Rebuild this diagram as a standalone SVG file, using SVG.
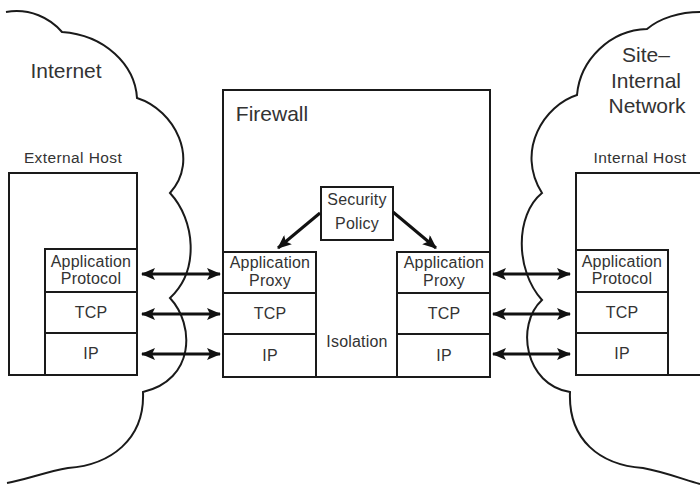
<svg xmlns="http://www.w3.org/2000/svg" width="700" height="485" viewBox="0 0 700 485">
<defs>
<style>
.box{fill:#fff;stroke:#1a1a1a;stroke-width:2}
.cloud{fill:none;stroke:#1a1a1a;stroke-width:2}
.t{font-family:"Liberation Sans",Arial,sans-serif;fill:#333;text-anchor:middle}
.big{font-size:21px}
.mid{font-size:15.5px;letter-spacing:0.4px}
.sm{font-size:16px;letter-spacing:0.2px}
.conn{stroke:#111;stroke-width:3;fill:none}
</style>
<marker id="ah" viewBox="0 0 14 12" refX="13" refY="6" markerWidth="14" markerHeight="12" markerUnits="userSpaceOnUse" orient="auto-start-reverse">
<path d="M0,0 L14,6 L0,12 L3,6 Z" fill="#111"/>
</marker>
</defs>
<rect width="700" height="485" fill="#fff"/>

<g id="internet-cloud">
<path class="cloud" d="M6,12 C30,8 50,18 62,32 C105,35 135,65 137,98 C175,110 200,160 170,193 C195,220 200,270 170,298 C195,325 195,380 143,392 C145,440 110,465 68,468 C45,472 25,480 7,483"/>
<text class="t big" x="66" y="78">Internet</text>
</g>

<g id="internal-cloud">
<path class="cloud" d="M700,12 C680,12 660,18 647,29 C610,30 580,60 577,95 C545,105 515,150 542,193 C515,215 515,270 542,300 C515,325 525,385 570,392 C568,440 600,465 643,468 C665,472 685,480 700,484"/>
<text class="t big" x="646" y="62">Site–</text>
<text class="t big" x="646" y="88">Internal</text>
<text class="t big" x="647" y="113">Network</text>
</g>

<g id="external-host">
<text class="t mid" x="73" y="163">External Host</text>
<rect class="box" x="9" y="173" width="128" height="202"/>
<rect class="box" x="45" y="249" width="92" height="43"/>
<rect class="box" x="45" y="292" width="92" height="41"/>
<rect class="box" x="45" y="333" width="92" height="42"/>
<text class="t sm" x="91" y="267">Application</text>
<text class="t sm" x="91" y="284">Protocol</text>
<text class="t sm" x="91" y="318">TCP</text>
<text class="t sm" x="91" y="359">IP</text>
</g>

<g id="firewall">
<rect class="box" x="223" y="90" width="267" height="287"/>
<text class="t big" x="272" y="121">Firewall</text>
<text class="t sm" x="357" y="347">Isolation</text>
</g>

<g id="security-policy">
<rect class="box" x="321" y="187" width="72" height="53"/>
<text class="t sm" x="357" y="205">Security</text>
<text class="t sm" x="357" y="229">Policy</text>
</g>

<g id="left-proxy">
<rect class="box" x="223" y="252" width="93" height="41"/>
<rect class="box" x="223" y="293" width="93" height="41"/>
<rect class="box" x="223" y="334" width="93" height="43"/>
<text class="t sm" x="270" y="268">Application</text>
<text class="t sm" x="270" y="286">Proxy</text>
<text class="t sm" x="270" y="319">TCP</text>
<text class="t sm" x="270" y="361">IP</text>
</g>

<g id="right-proxy">
<rect class="box" x="397" y="252" width="93" height="41"/>
<rect class="box" x="397" y="293" width="93" height="41"/>
<rect class="box" x="397" y="334" width="93" height="43"/>
<text class="t sm" x="444" y="268">Application</text>
<text class="t sm" x="444" y="286">Proxy</text>
<text class="t sm" x="444" y="319">TCP</text>
<text class="t sm" x="444" y="361">IP</text>
</g>

<g id="internal-host">
<text class="t mid" x="640" y="163">Internal Host</text>
<rect class="box" x="576" y="173" width="130" height="202"/>
<rect class="box" x="576" y="250" width="92" height="42"/>
<rect class="box" x="576" y="292" width="92" height="41"/>
<rect class="box" x="576" y="333" width="92" height="42"/>
<text class="t sm" x="622" y="267">Application</text>
<text class="t sm" x="622" y="284">Protocol</text>
<text class="t sm" x="622" y="318">TCP</text>
<text class="t sm" x="622" y="359">IP</text>
</g>

<g id="connectors">
<line class="conn" x1="142" y1="274" x2="220" y2="274" marker-start="url(#ah)" marker-end="url(#ah)"/>
<line class="conn" x1="142" y1="314" x2="220" y2="314" marker-start="url(#ah)" marker-end="url(#ah)"/>
<line class="conn" x1="142" y1="354" x2="220" y2="354" marker-start="url(#ah)" marker-end="url(#ah)"/>
<line class="conn" x1="493" y1="274" x2="570" y2="274" marker-start="url(#ah)" marker-end="url(#ah)"/>
<line class="conn" x1="493" y1="314" x2="570" y2="314" marker-start="url(#ah)" marker-end="url(#ah)"/>
<line class="conn" x1="493" y1="354" x2="570" y2="354" marker-start="url(#ah)" marker-end="url(#ah)"/>
<line class="conn" x1="320" y1="213" x2="278" y2="248" marker-end="url(#ah)"/>
<line class="conn" x1="393" y1="212" x2="436" y2="248" marker-end="url(#ah)"/>
</g>
</svg>
